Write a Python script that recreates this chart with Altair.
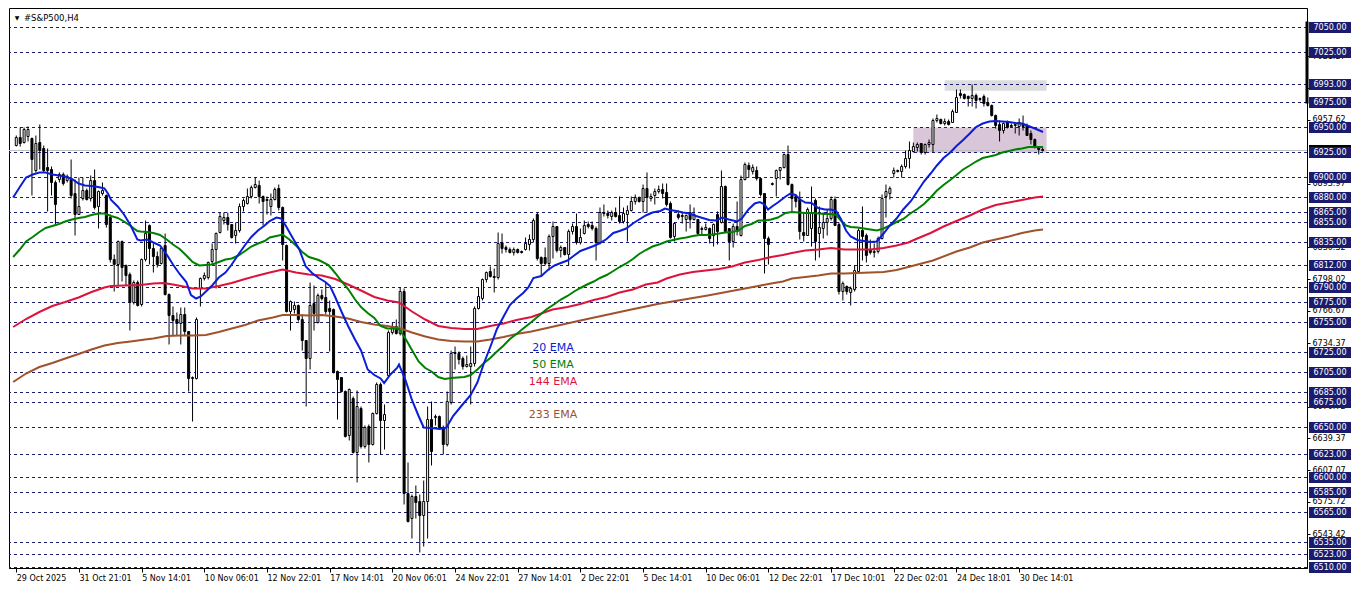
import altair as alt
import pandas as pd

# ---------------- data ----------------
opens = [6932, 6940, 6935, 6941, 6939, 6907, 6935, 6929, 6910, 6908, 6895, 6898, 6903, 6897, 6898, 6884,
         6863, 6879, 6887, 6879, 6897, 6871, 6884, 6882, 6860, 6818, 6813, 6836, 6812, 6803, 6775, 6795,
         6773, 6818, 6852, 6829, 6821, 6814, 6832, 6783, 6762, 6758, 6754, 6763, 6746, 6699, 6699, 6789,
         6799, 6800, 6816, 6828, 6845, 6857, 6860, 6853, 6842, 6847, 6871, 6874, 6881, 6890, 6892, 6881,
         6877, 6871, 6878, 6889, 6870, 6832, 6766, 6768, 6772, 6758, 6737, 6719, 6774, 6755, 6782, 6780,
         6769, 6768, 6706, 6700, 6686, 6642, 6679, 6625, 6669, 6631, 6651, 6633, 6664, 6693, 6657, 6702,
         6745, 6751, 6744, 6786, 6584, 6559, 6581, 6576, 6562, 6576, 6658, 6660, 6661, 6650, 6633, 6675,
         6724, 6724, 6719, 6711, 6711, 6714, 6769, 6779, 6798, 6806, 6801, 6800, 6835, 6830, 6828, 6825,
         6828, 6826, 6828, 6833, 6838, 6863, 6820, 6820, 6814, 6841, 6851, 6827, 6830, 6823, 6846, 6851,
         6835, 6844, 6853, 6852, 6849, 6835, 6865, 6864, 6861, 6865, 6862, 6856, 6863, 6867, 6876, 6880,
         6876, 6889, 6879, 6882, 6886, 6888, 6885, 6874, 6841, 6863, 6862, 6858, 6865, 6858, 6858, 6848,
         6848, 6849, 6842, 6863, 6855, 6891, 6849, 6836, 6851, 6842, 6898, 6912, 6906, 6907, 6899, 6884,
         6839, 6893, 6899, 6907, 6910, 6923, 6893, 6881, 6878, 6845, 6842, 6849, 6877, 6844, 6849, 6855,
         6859, 6878, 6853, 6786, 6791, 6785, 6788, 6806, 6847, 6842, 6828, 6825, 6826, 6839, 6881, 6884,
         6904, 6907, 6906, 6911, 6919, 6926, 6930, 6934, 6925, 6933, 6933, 6957, 6958, 6954, 6956, 6955,
         6965, 6984, 6983, 6981, 6979, 6982, 6979, 6981, 6975, 6972, 6962, 6953, 6947, 6955, 6952, 6952,
         6951, 6954, 6952, 6944, 6938, 6930, 6928]
highs = [6942, 6950, 6950, 6951, 6940, 6942, 6953, 6932, 6929, 6911, 6897, 6905, 6905, 6903, 6918, 6898,
         6900, 6900, 6889, 6902, 6908, 6887, 6895, 6883, 6863, 6823, 6837, 6837, 6813, 6805, 6797, 6797,
         6819, 6857, 6853, 6834, 6826, 6831, 6844, 6784, 6771, 6765, 6770, 6770, 6746, 6701, 6760, 6800,
         6805, 6816, 6834, 6845, 6865, 6865, 6865, 6853, 6855, 6874, 6879, 6889, 6892, 6900, 6897, 6882,
         6881, 6884, 6890, 6893, 6871, 6833, 6777, 6776, 6773, 6763, 6737, 6795, 6792, 6784, 6788, 6795,
         6777, 6769, 6707, 6700, 6687, 6689, 6681, 6687, 6671, 6652, 6653, 6665, 6695, 6695, 6673, 6747,
         6755, 6758, 6790, 6789, 6615, 6583, 6592, 6583, 6597, 6671, 6676, 6663, 6662, 6652, 6686, 6727,
         6731, 6726, 6721, 6722, 6731, 6771, 6790, 6799, 6806, 6811, 6809, 6845, 6844, 6832, 6830, 6830,
         6829, 6827, 6840, 6843, 6859, 6865, 6821, 6830, 6843, 6856, 6851, 6832, 6830, 6848, 6854, 6864,
         6849, 6857, 6856, 6856, 6851, 6870, 6873, 6867, 6867, 6870, 6881, 6870, 6872, 6881, 6883, 6881,
         6893, 6905, 6884, 6889, 6892, 6894, 6894, 6876, 6855, 6867, 6865, 6863, 6873, 6870, 6858, 6851,
         6854, 6850, 6854, 6866, 6907, 6892, 6849, 6854, 6876, 6902, 6915, 6915, 6913, 6911, 6899, 6884,
         6841, 6895, 6908, 6910, 6924, 6932, 6894, 6883, 6886, 6865, 6870, 6891, 6879, 6871, 6865, 6868,
         6881, 6881, 6855, 6796, 6792, 6791, 6812, 6849, 6871, 6844, 6838, 6834, 6841, 6883, 6893, 6891,
         6910, 6908, 6913, 6927, 6936, 6935, 6935, 6934, 6934, 6938, 6959, 6963, 6959, 6959, 6958, 6968,
         6988, 6988, 6984, 6982, 6993, 6984, 6980, 6983, 6980, 6973, 6963, 6957, 6955, 6957, 6954, 6955,
         6959, 6962, 6954, 6947, 6939, 6931, 6930]
lows = [6931, 6931, 6934, 6936, 6882, 6905, 6908, 6905, 6866, 6882, 6853, 6895, 6892, 6895, 6879, 6842,
        6863, 6877, 6877, 6876, 6868, 6849, 6882, 6850, 6815, 6786, 6792, 6796, 6792, 6747, 6773, 6771,
        6771, 6816, 6813, 6805, 6810, 6813, 6782, 6733, 6742, 6742, 6733, 6742, 6686, 6656, 6698, 6771,
        6797, 6798, 6813, 6789, 6844, 6853, 6847, 6839, 6834, 6845, 6866, 6873, 6879, 6889, 6874, 6852,
        6863, 6862, 6877, 6867, 6817, 6765, 6747, 6764, 6756, 6727, 6671, 6708, 6747, 6754, 6777, 6763,
        6726, 6704, 6658, 6685, 6640, 6637, 6624, 6595, 6629, 6629, 6615, 6632, 6663, 6623, 6628, 6700,
        6743, 6743, 6742, 6573, 6555, 6539, 6559, 6525, 6531, 6539, 6612, 6652, 6648, 6623, 6631, 6673,
        6708, 6713, 6708, 6710, 6673, 6711, 6768, 6777, 6795, 6800, 6785, 6798, 6824, 6825, 6824, 6822,
        6824, 6824, 6827, 6827, 6835, 6817, 6801, 6812, 6807, 6819, 6825, 6820, 6822, 6812, 6843, 6833,
        6833, 6843, 6849, 6847, 6817, 6833, 6861, 6859, 6857, 6860, 6854, 6854, 6836, 6866, 6873, 6875,
        6865, 6865, 6876, 6873, 6884, 6879, 6871, 6839, 6836, 6858, 6854, 6846, 6849, 6857, 6842, 6842,
        6847, 6834, 6831, 6833, 6854, 6846, 6817, 6830, 6842, 6841, 6897, 6900, 6903, 6897, 6881, 6804,
        6813, 6892, 6881, 6898, 6909, 6892, 6866, 6870, 6838, 6836, 6842, 6831, 6817, 6820, 6839, 6842,
        6857, 6852, 6783, 6777, 6783, 6772, 6786, 6804, 6817, 6815, 6823, 6820, 6824, 6838, 6860, 6878,
        6900, 6905, 6900, 6909, 6909, 6925, 6926, 6923, 6923, 6930, 6925, 6955, 6953, 6952, 6952, 6955,
        6965, 6979, 6978, 6971, 6971, 6969, 6976, 6971, 6971, 6961, 6949, 6936, 6944, 6949, 6950, 6944,
        6942, 6947, 6942, 6933, 6929, 6923, 6926]
closes = [6940, 6934, 6948, 6948, 6918, 6934, 6927, 6907, 6907, 6895, 6873, 6903, 6894, 6901, 6882, 6863,
          6871, 6887, 6878, 6897, 6870, 6886, 6887, 6853, 6818, 6813, 6836, 6810, 6802, 6775, 6795, 6772,
          6818, 6844, 6829, 6821, 6813, 6829, 6783, 6762, 6757, 6754, 6763, 6746, 6699, 6700, 6758, 6799,
          6802, 6815, 6828, 6844, 6861, 6860, 6853, 6840, 6847, 6871, 6877, 6881, 6890, 6893, 6881, 6876,
          6878, 6878, 6888, 6870, 6833, 6766, 6776, 6772, 6758, 6737, 6719, 6772, 6764, 6782, 6779, 6766,
          6766, 6705, 6698, 6686, 6641, 6688, 6625, 6671, 6631, 6650, 6633, 6664, 6693, 6657, 6663, 6745,
          6750, 6744, 6786, 6584, 6556, 6581, 6575, 6562, 6576, 6658, 6626, 6661, 6650, 6633, 6676, 6724,
          6725, 6718, 6711, 6713, 6714, 6769, 6781, 6798, 6805, 6801, 6800, 6834, 6829, 6828, 6825, 6828,
          6825, 6825, 6834, 6838, 6857, 6819, 6814, 6814, 6841, 6851, 6827, 6830, 6823, 6846, 6851, 6835,
          6840, 6852, 6851, 6849, 6835, 6865, 6864, 6862, 6865, 6861, 6856, 6864, 6867, 6876, 6880, 6876,
          6889, 6880, 6881, 6886, 6888, 6884, 6873, 6840, 6854, 6860, 6861, 6862, 6858, 6863, 6844, 6849,
          6850, 6839, 6853, 6846, 6891, 6846, 6836, 6851, 6846, 6898, 6913, 6908, 6910, 6899, 6883, 6839,
          6833, 6894, 6907, 6910, 6923, 6893, 6879, 6876, 6846, 6842, 6868, 6865, 6836, 6850, 6855, 6859,
          6878, 6852, 6786, 6794, 6786, 6789, 6807, 6847, 6841, 6822, 6825, 6826, 6839, 6879, 6886, 6889,
          6907, 6906, 6911, 6919, 6927, 6931, 6933, 6925, 6933, 6935, 6957, 6959, 6954, 6956, 6953, 6966,
          6980, 6982, 6979, 6979, 6982, 6977, 6978, 6974, 6972, 6962, 6952, 6947, 6954, 6950, 6951, 6953,
          6955, 6951, 6942, 6938, 6930, 6928, 6927]

time_labels = ["29 Oct 2025", "31 Oct 21:01", "5 Nov 14:01", "10 Nov 06:01", "12 Nov 22:01",
               "17 Nov 14:01", "20 Nov 06:01", "24 Nov 22:01", "27 Nov 14:01", "2 Dec 22:01",
               "5 Dec 14:01", "10 Dec 06:01", "12 Dec 22:01", "17 Dec 10:01", "22 Dec 02:01",
               "24 Dec 18:01", "30 Dec 14:01"]
bars_per_label = 16

ema20_i = [-0.8, 0.9, 2.5, 4.2, 5.9, 7.5, 9.2, 10.9, 12.5, 14.2, 15.9, 17.5, 19.2, 20.9, 22.5, 23.4, 24.2,
           25.9, 27.5, 29.2, 30.9, 31.7, 33.4, 35.0, 36.7, 38.4, 40.0, 41.7, 43.4, 44.6, 45.9, 47.1, 48.4,
           50.0, 51.7, 53.4, 55.0, 56.7, 58.4, 60.0, 61.7, 63.4, 64.7, 66.4, 67.6, 68.9, 70.5, 72.2, 73.9,
           75.5, 77.2, 78.9, 80.1, 81.4, 83.0, 84.7, 86.4, 88.0, 89.7, 91.4, 93.0, 93.9, 95.5, 97.2, 97.7,
           99.4, 101.0, 102.7, 104.0, 106.0, 108.1, 109.8, 111.5, 113.5, 116.0, 117.7, 119.4, 121.0, 122.7,
           124.4, 126.0, 127.7, 129.4, 130.7, 132.0, 134.0, 135.7, 137.4, 139.0, 140.7, 142.4, 144.0, 145.7,
           147.4, 149.0, 150.7, 152.4, 154.0, 155.7, 157.4, 159.0, 160.7, 162.4, 164.4, 165.6, 166.9, 168.5,
           170.2, 171.9, 173.5, 175.2, 176.9, 178.5, 180.2, 181.9, 184.0, 185.2, 186.9, 188.5, 189.8, 191.0,
           191.9, 193.1, 194.4, 196.4, 197.6, 198.9, 200.1, 201.4, 203.0, 204.7, 206.4, 208.0, 209.3, 210.5,
           211.8, 213.0, 214.7, 216.4, 218.0, 219.7, 221.4, 223.0, 224.7, 226.4, 228.4, 230.0, 231.7, 233.4,
           235.0, 236.7, 238.4, 240.0, 241.7, 243.4, 245.0, 246.7, 248.4, 250.0, 251.7, 253.4, 255.0, 256.7,
           258.4, 260.0, 262.1]
ema20_v = [6880, 6890.5, 6900, 6903, 6905, 6905, 6903, 6902, 6901, 6898.5, 6894, 6892, 6891.5, 6890.5, 6889,
           6884, 6877.5, 6871, 6863, 6852, 6838, 6837, 6838, 6835, 6832, 6823, 6813, 6803.5, 6795.5, 6782.5,
           6779, 6781, 6786, 6792, 6800, 6805, 6813, 6823, 6832.5, 6840.5, 6847, 6852, 6856.5, 6860, 6859,
           6851, 6840, 6828.5, 6811, 6804.5, 6799.5, 6795.5, 6791.5, 6780.5, 6766, 6751.5, 6738.5, 6727,
           6708, 6702.5, 6699, 6694.5, 6703, 6709.5, 6713, 6697, 6677.5, 6661.5, 6650, 6649.5, 6648.5, 6650,
           6661.5, 6671, 6682.5, 6695, 6714.5, 6730.5, 6748.5, 6761, 6772.5, 6779, 6784.5, 6790, 6799.5,
           6801.5, 6807.5, 6812, 6814.5, 6817, 6822, 6826.5, 6829, 6831.5, 6834.5, 6838.5, 6844.5, 6846.5,
           6849, 6854, 6858, 6862, 6865, 6866.5, 6869, 6867.5, 6866.5, 6865, 6864, 6861.5, 6859.5, 6857.5,
           6857, 6860, 6858, 6856, 6859, 6868, 6874, 6875.5, 6873, 6868, 6871.5, 6875, 6881, 6884, 6882.5,
           6878, 6875, 6874.5, 6869.5, 6868, 6868, 6866.5, 6858.5, 6847, 6841, 6837.5, 6836.5, 6835.5, 6836,
           6844, 6852, 6859, 6868, 6876.5, 6886, 6896, 6904, 6912, 6919.5, 6925, 6931.5, 6937.5, 6944,
           6950.5, 6954, 6956, 6956.5, 6956, 6955.5, 6954.5, 6954, 6951.5, 6949, 6945.5]

ema50_i = [-0.8, 0.9, 2.5, 4.2, 5.9, 7.5, 9.2, 10.9, 12.5, 14.2, 15.9, 17.5, 19.2, 20.9, 22.5, 24.2, 25.9,
           27.5, 29.2, 30.9, 31.7, 33.4, 35.0, 36.7, 38.4, 40.0, 41.7, 43.4, 45.0, 46.7, 48.4, 50.0, 51.7,
           53.4, 55.0, 56.7, 58.4, 60.0, 61.7, 63.4, 64.7, 66.4, 68.0, 69.7, 71.4, 73.0, 74.7, 77.2, 79.7,
           81.4, 83.0, 84.7, 86.4, 88.0, 89.7, 91.4, 93.0, 94.7, 96.4, 97.7, 99.4, 101.0, 102.7, 104.4, 106.0,
           107.7, 109.4, 111.0, 112.7, 114.4, 116.0, 117.7, 119.4, 121.0, 122.7, 124.4, 126.0, 127.7, 129.4,
           131.5, 135.3, 137.4, 139.0, 140.7, 142.4, 144.0, 145.7, 147.4, 149.0, 150.7, 152.4, 154.0, 155.7,
           157.4, 159.0, 160.7, 162.4, 164.4, 166.0, 167.7, 169.4, 171.0, 172.7, 174.4, 176.0, 177.7, 179.4,
           181.0, 182.7, 184.4, 186.0, 187.7, 189.4, 191.0, 192.7, 194.4, 196.4, 198.0, 199.7, 201.4, 203.0,
           204.7, 206.4, 208.0, 209.3, 210.5, 211.8, 213.0, 214.7, 216.4, 218.0, 219.7, 221.4, 223.0, 224.7,
           226.4, 228.4, 230.0, 231.7, 233.4, 235.0, 236.7, 238.4, 240.0, 241.7, 243.4, 245.0, 246.7, 248.4,
           250.0, 251.7, 253.4, 255.0, 256.7, 258.4, 260.0, 262.1]
ema50_v = [6820.5, 6828, 6836, 6840.5, 6845.5, 6849.5, 6851.5, 6853.5, 6856, 6858, 6859.5, 6860.5, 6862.5,
           6864, 6864, 6861.5, 6859.5, 6856, 6851.5, 6846.5, 6846, 6845.5, 6844.5, 6842.5, 6838, 6833,
           6828.5, 6822, 6815.5, 6812, 6812.5, 6813, 6815.5, 6818, 6819, 6822, 6826.5, 6831, 6834, 6836.5,
           6840, 6841.5, 6843, 6838, 6832, 6825.5, 6820.5, 6817.5, 6812.5, 6804.5, 6796.5, 6788.5, 6778.5,
           6770.5, 6764.5, 6759.5, 6751.5, 6749, 6749, 6748.5, 6738.5, 6727.5, 6716, 6709.5, 6706, 6700.5,
           6698.5, 6699.5, 6700, 6700.5, 6702.5, 6708, 6714.5, 6719.5, 6726, 6732, 6738.5, 6743.5, 6749,
           6755.5, 6768, 6773.5, 6778, 6781.5, 6786, 6789.5, 6793, 6796, 6799.5, 6802.5, 6806.5, 6810.5,
           6814, 6818.5, 6823.5, 6827.5, 6831, 6833.5, 6836, 6837.5, 6839, 6840, 6841.5, 6842.5, 6842.5,
           6843, 6844, 6845, 6845.5, 6847, 6851.5, 6853.5, 6857, 6857, 6858, 6860, 6864.5, 6865.5, 6865,
           6864.5, 6864.5, 6864, 6863.5, 6863.5, 6862.5, 6857, 6852, 6850.5, 6850, 6849, 6848, 6847, 6849,
           6852, 6855.5, 6858.5, 6864.5, 6868.5, 6873.5, 6880, 6887, 6892.5, 6897.5, 6902.5, 6908, 6912,
           6916, 6919.5, 6921, 6922.5, 6925, 6926.5, 6928, 6929, 6930.5, 6930.5, 6930.5]

ema144_i = [-0.8, 2.5, 5.9, 9.2, 12.5, 15.9, 19.2, 22.5, 24.2, 27.5, 31.7, 35.0, 37.5, 40.0, 43.4, 45.0,
            48.4, 51.7, 55.0, 58.4, 61.7, 64.7, 68.0, 71.4, 74.7, 78.0, 81.4, 84.7, 88.0, 91.4, 94.7, 97.7,
            101.0, 104.4, 107.7, 111.0, 114.4, 117.7, 121.0, 124.4, 127.7, 131.5, 136.9, 140.7, 144.0, 147.4,
            150.7, 154.0, 157.4, 160.7, 163.7, 166.0, 169.4, 172.7, 176.0, 179.4, 182.7, 186.0, 189.4, 192.7,
            195.7, 198.0, 201.4, 204.7, 208.0, 211.4, 214.7, 218.0, 221.4, 224.7, 227.7, 230.0, 233.4, 236.7,
            240.0, 243.4, 246.7, 250.0, 253.4, 256.7, 260.0, 262.1]
ema144_v = [6750.5, 6758.5, 6765.5, 6771.5, 6775.5, 6780, 6785.5, 6790, 6791.5, 6792, 6792.5, 6794, 6794.5,
            6793, 6790.5, 6789, 6789, 6791.5, 6794.5, 6798.5, 6802, 6805, 6808, 6805, 6803, 6802, 6798.5,
            6793, 6787, 6780.5, 6777, 6775, 6766, 6758, 6751.5, 6749.5, 6748.5, 6748.5, 6751.5, 6754,
            6757.5, 6760.5, 6768, 6770.5, 6773.5, 6777.5, 6780.5, 6785, 6788, 6793, 6795, 6799, 6803,
            6805.5, 6807, 6808.5, 6811, 6815, 6817.5, 6820.5, 6822.5, 6824.5, 6827, 6828, 6829.5, 6828,
            6828, 6828, 6829.5, 6832, 6835, 6839, 6844.5, 6851, 6856.5, 6862, 6868, 6872.5, 6875, 6877.5,
            6880, 6881]

ema233_i = [-0.8, 2.5, 5.9, 9.2, 12.5, 15.9, 19.2, 22.5, 25.9, 29.2, 32.9, 35.0, 38.4, 41.7, 45.0, 48.4,
            51.7, 55.0, 58.4, 61.7, 65.5, 68.0, 71.4, 74.7, 78.0, 81.4, 84.7, 88.0, 91.4, 94.7, 97.7, 101.0,
            104.4, 107.7, 111.0, 114.4, 117.7, 121.0, 124.4, 127.7, 131.5, 144.0, 157.0, 160.7, 163.7, 176.5,
            189.4, 192.7, 195.7, 198.0, 201.4, 204.7, 208.0, 211.4, 214.7, 218.0, 221.4, 224.7, 227.7, 234.0,
            240.0, 243.4, 246.7, 250.0, 253.4, 256.7, 260.0, 262.1]
ema233_v = [6695.5, 6704, 6710.5, 6714.5, 6719, 6723.5, 6728, 6732, 6734.5, 6736, 6738, 6739, 6741.5, 6742,
            6742, 6742.5, 6745.5, 6749, 6752.5, 6757, 6760, 6762.5, 6762.5, 6762, 6762.5, 6761, 6759, 6755.5,
            6753, 6751.5, 6749.5, 6745, 6741, 6738, 6736.5, 6736, 6736, 6738, 6740.5, 6743.5, 6746, 6757,
            6768, 6771, 6773.5, 6782, 6791.5, 6794, 6796, 6799, 6800.5, 6802, 6804, 6804, 6804.5, 6805,
            6805.5, 6807.5, 6810.5, 6817, 6826, 6830, 6835, 6838, 6841, 6844.5, 6847, 6848]

ema_names = ["20 EMA", "50 EMA", "144 EMA", "233 EMA"]
ema_colors = ["#0a1ed8", "#008000", "#dc143c", "#a0522d"]
ema_label_i = [137, 137, 137, 137]
ema_label_v = [6729.3, 6712.9, 6695.5, 6662.8]

levels = [7050, 7025, 6993, 6975, 6950, 6925, 6900, 6880, 6865, 6855, 6835, 6812, 6790, 6775, 6755,
          6725, 6705, 6685, 6675, 6650, 6623, 6600, 6585, 6565, 6535, 6523, 6510]
scale_ticks = [7021.27, 6989.52, 6957.62, 6893.97, 6830.32, 6798.02, 6766.67, 6734.37, 6670.72,
               6639.37, 6607.07, 6575.72, 6543.42]

zone_gray = {"i0": 237, "i1": 263, "p0": 6986.8, "p1": 6997.2}
zone_purple = {"i0": 229, "i1": 263, "p0": 6925, "p1": 6950}
axis_bar = {"p0": 7056, "p1": 6974}

# ---------------- chart ----------------
W, H = 1298, 560
FONT = "DejaVu Sans"
XS = alt.Scale(domain=[-0.58, 328.2], nice=False, zero=False)
YS = alt.Scale(domain=[6509.5, 7069.5], nice=False, zero=False)

label_expr = "[" + ",".join("'" + s + "'" for s in time_labels) + "][round(datum.value/%d)]" % bars_per_label
x_axis = alt.Axis(values=[k * bars_per_label for k in range(len(time_labels))], labelExpr=label_expr,
                  labelAlign="left", labelBaseline="top", labelPadding=2, labelFont=FONT, labelFontSize=8,
                  labelColor="black", tickColor="black", tickSize=4, domainColor="black", grid=False,
                  title=None, labelOverlap=False, labelBound=False, labelFlush=False, zindex=0)
y_axis = alt.Axis(orient="right", values=scale_ticks, format=".2f", labelFont=FONT, labelFontSize=8,
                  labelColor="black", tickColor="black", tickSize=3, labelPadding=2, domainColor="black",
                  grid=False, title=None, labelOverlap=False, labelBound=False, labelFlush=False, zindex=0)


def X(f):
    return alt.X(f, type="quantitative", scale=XS, axis=x_axis)


def Y(f):
    return alt.Y(f, type="quantitative", scale=YS, axis=y_axis)


n = len(opens)
candles = pd.DataFrame({"i": list(range(n)), "o": opens, "h": highs, "l": lows, "c": closes})
lev_df = pd.DataFrame({"level": levels})
bid_df = pd.DataFrame({"p": [closes[-1]]})

layers = []
for z, col in ((zone_gray, "#dcdcdc"), (zone_purple, "#d9c6d9")):
    layers.append(alt.Chart(pd.DataFrame([z])).mark_rect(color=col, opacity=1).encode(
        x=X("i0"), x2="i1", y=Y("p0"), y2="p1"))

layers.append(alt.Chart(lev_df).mark_rule(color="#1a1a6e", strokeDash=[3, 3], strokeWidth=1).encode(
    y=Y("level")))
layers.append(alt.Chart(bid_df).mark_rule(color="#c0c0c0", strokeWidth=1).encode(y=Y("p")))

layers.append(alt.Chart(candles).mark_rule(color="black", strokeWidth=1).encode(
    x=X("i"), y=Y("l"), y2="h"))
layers.append(alt.Chart(candles).mark_bar(size=2, stroke="black", strokeWidth=1, orient="vertical").encode(
    x=X("i"), y=Y("o"), y2="c",
    fill=alt.condition("datum.c >= datum.o", alt.value("white"), alt.value("black"))))

for xs, vs, col in ((ema233_i, ema233_v, ema_colors[3]), (ema144_i, ema144_v, ema_colors[2]),
                    (ema50_i, ema50_v, ema_colors[1]), (ema20_i, ema20_v, ema_colors[0])):
    layers.append(alt.Chart(pd.DataFrame({"i": xs, "v": vs})).mark_line(
        color=col, strokeWidth=2, clip=True).encode(x=X("i"), y=Y("v")))

lab_df = pd.DataFrame({"i": ema_label_i, "v": ema_label_v, "t": ema_names, "col": ema_colors})
layers.append(alt.Chart(lab_df).mark_text(font=FONT, fontSize=11, align="center", baseline="middle").encode(
    x=X("i"), y=Y("v"), text="t:N", color=alt.Color("col:N", scale=None)))

layers.append(alt.Chart(pd.DataFrame({"t": ["#S&P500,H4"]})).mark_text(
    font=FONT, fontSize=8.5, align="left", baseline="middle", color="black").encode(
    x=alt.value(15), y=alt.value(10), text="t:N"))
layers.append(alt.Chart(pd.DataFrame({"t": ["\u25bc"]})).mark_text(
    font=FONT, fontSize=6, align="center", baseline="middle", color="black").encode(
    x=alt.value(8), y=alt.value(10), text="t:N"))

# right price-scale boxes
BX = W + 23
layers.append(alt.Chart(bid_df).mark_tick(orient="horizontal", size=42, thickness=11, color="black",
                                          opacity=1).encode(x=alt.value(BX), y=Y("p")))
layers.append(alt.Chart(lev_df).mark_tick(orient="horizontal", size=42, thickness=11, color="#1b1b6e",
                                          opacity=1).encode(x=alt.value(BX), y=Y("level")))
layers.append(alt.Chart(lev_df).mark_text(font=FONT, fontSize=8, color="white", align="center",
                                          baseline="middle").encode(
    x=alt.value(BX), y=Y("level"), text=alt.Text("level:Q", format=".2f")))
layers.append(alt.Chart(pd.DataFrame([axis_bar])).mark_rule(color="black", strokeWidth=3).encode(
    x=alt.value(W), y=Y("p0"), y2="p1"))

chart = alt.layer(*layers).properties(
    width=W, height=H, padding={"left": 0, "top": 0, "right": 2, "bottom": 2}
).configure(background="white").configure_view(stroke="black", strokeWidth=1)

chart.save("out.html", embed_options={"renderer": "svg", "actions": False})
